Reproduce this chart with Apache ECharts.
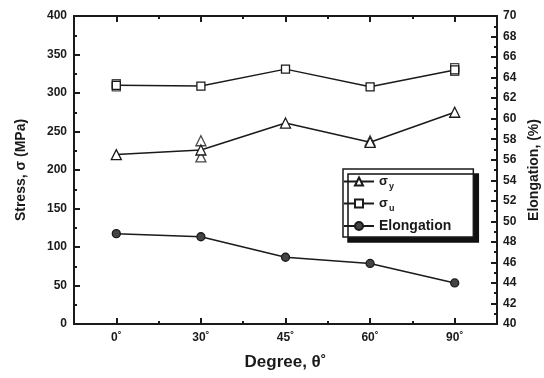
<!DOCTYPE html>
<html><head><meta charset="utf-8">
<script src="https://cdn.jsdelivr.net/npm/echarts@6/dist/echarts.min.js"></script>
<style>html,body{margin:0;padding:0;background:#fff}#c{width:544px;height:378px}</style>
</head><body><div id="c"></div>
<script>
const categories = ['0˚', '30˚', '45˚', '60˚', '90˚'];
const sigmaY = [220, 226, 261, 236, 275];
const sigmaU = [310, 309, 331, 308, 330];
const elongation = [48.8, 48.5, 46.5, 45.9, 44.0];
// extra individual measurements drawn as markers
const sigmaYExtra = [[1, 238], [1, 217], [3, 238]];
const sigmaUExtra = [[0, 308], [0, 312], [4, 333], [4, 328]];
const leftTicks = [0, 400, 50];
const rightTicks = [40, 70, 2];

const FONT = 'Liberation Sans';
const INK = '#1a1a1a';
const chart = echarts.init(document.getElementById('c'), null, {renderer: 'canvas'});
const lineAx = {show: true, lineStyle: {color: INK, width: 2}};
function xAx(pos, aligned, len, labels) {
  return {
    type: 'category', data: categories, position: pos, boundaryGap: true,
    axisLine: lineAx,
    axisTick: {show: true, inside: true, length: len, alignWithLabel: aligned, lineStyle: {color: INK, width: 2}},
    axisLabel: labels ? {show: true, color: INK, fontFamily: FONT, fontWeight: 'bold', fontSize: 12, margin: 8} : {show: false},
    splitLine: {show: false}
  };
}
const xAxes = [xAx('bottom', true, 6, true), xAx('bottom', false, 3, false), xAx('top', true, 6, false), xAx('top', false, 3, false)];
xAxes[0].name = 'Degree, θ˚';
xAxes[0].nameLocation = 'middle';
xAxes[0].nameGap = 30;
xAxes[0].nameTextStyle = {color: INK, fontFamily: FONT, fontWeight: 'bold', fontSize: 17};

const option = {
  backgroundColor: '#fff',
  animation: false,
  grid: {left: 74, right: 47, top: 16, bottom: 54, containLabel: false, outerBoundsMode: 'none'},
  legend: {
    orient: 'vertical', left: 343, top: 169,
    padding: [6, 22, 4, 0],
    itemGap: 6, itemWidth: 30, itemHeight: 10,
    backgroundColor: '#fff', borderColor: INK, borderWidth: 1.5,
    shadowColor: '#111', shadowBlur: 0.01, shadowOffsetX: 5, shadowOffsetY: 5,
    data: ['σy', 'σu', 'Elongation'],
    formatter: function (n) {
      if (n === 'σy') return '{s|σ}{sub|y}';
      if (n === 'σu') return '{s|σ}{sub|u}';
      return '{e|Elongation}';
    },
    textStyle: {
      color: INK, fontFamily: FONT, fontWeight: 'bold', fontSize: 13,
      rich: {
        s: {fontFamily: FONT, fontSize: 13, fontWeight: 'bold', color: INK},
        sub: {fontFamily: FONT, fontSize: 9, fontWeight: 'bold', color: INK, padding: [10, 0, 0, 1]},
        e: {fontFamily: FONT, fontSize: 14, fontWeight: 'bold', color: INK}
      }
    }
  },
  xAxis: xAxes,
  yAxis: [{
    type: 'value', min: leftTicks[0], max: leftTicks[1], interval: leftTicks[2], position: 'left',
    name: 'Stress, σ (MPa)', nameLocation: 'middle', nameGap: 46,
    nameTextStyle: {color: INK, fontFamily: FONT, fontWeight: 'bold', fontSize: 14},
    axisLine: lineAx,
    axisTick: {show: true, inside: true, length: 6, lineStyle: {color: INK, width: 2}},
    minorTick: {show: true, splitNumber: 2, length: 3, lineStyle: {color: INK, width: 2}},
    axisLabel: {color: INK, fontFamily: FONT, fontWeight: 'bold', fontSize: 12, margin: 7},
    splitLine: {show: false}
  }, {
    type: 'value', min: rightTicks[0], max: rightTicks[1], interval: rightTicks[2], position: 'right',
    name: 'Elongation, (%)', nameLocation: 'middle', nameGap: 27, nameRotate: 90,
    nameTextStyle: {color: INK, fontFamily: FONT, fontWeight: 'bold', fontSize: 14},
    axisLine: lineAx,
    axisTick: {show: true, inside: true, length: 6, lineStyle: {color: INK, width: 2}},
    minorTick: {show: true, splitNumber: 2, length: 3, lineStyle: {color: INK, width: 2}},
    axisLabel: {color: INK, fontFamily: FONT, fontWeight: 'bold', fontSize: 12, margin: 6},
    splitLine: {show: false}
  }],
  series: [{
    name: 'σy', type: 'line', data: sigmaY, symbol: 'triangle', symbolSize: 10,
    lineStyle: {color: INK, width: 1.5}, itemStyle: {color: '#fff', borderColor: INK, borderWidth: 1.3}
  }, {
    name: 'σy', type: 'scatter', data: sigmaYExtra, symbol: 'triangle', symbolSize: 10,
    itemStyle: {color: 'rgba(255,255,255,0)', borderColor: INK, borderWidth: 1.3}
  }, {
    name: 'σu', type: 'line', data: sigmaU, symbol: 'rect', symbolSize: 8,
    lineStyle: {color: INK, width: 1.5}, itemStyle: {color: '#fff', borderColor: INK, borderWidth: 1.3}
  }, {
    name: 'σu', type: 'scatter', data: sigmaUExtra, symbol: 'rect', symbolSize: 8,
    itemStyle: {color: 'rgba(255,255,255,0)', borderColor: INK, borderWidth: 1.3}
  }, {
    name: 'Elongation', type: 'line', yAxisIndex: 1, data: elongation, symbol: 'circle', symbolSize: 8,
    lineStyle: {color: INK, width: 1.5}, itemStyle: {color: '#444', borderColor: INK, borderWidth: 1.3}
  }]
};
chart.setOption(option);
</script></body></html>
